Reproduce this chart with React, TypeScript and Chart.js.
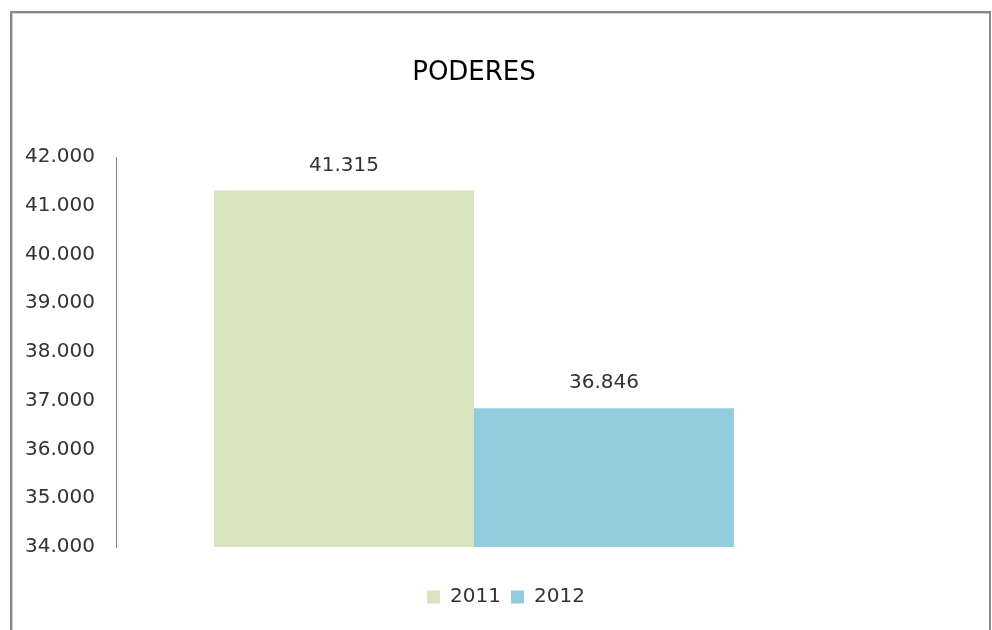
import React, { useEffect, useRef } from "react";
import { Chart, registerables } from "chart.js";

Chart.register(...registerables);

const chartTitle = "PODERES";
const categories = ["PODERES"];
const seriesLabels = ["2011", "2012"];
const values2011 = [41315];
const values2012 = [36846];
const seriesColors = ["#D7E4BD", "#93CDDD"];
const yTickValues = [34000, 35000, 36000, 37000, 38000, 39000, 40000, 41000, 42000];

const FONT = "'DejaVu Sans', sans-serif";

function fmt(n: number): string {
  return String(Math.round(n)).replace(/\B(?=(\d{3})+(?!\d))/g, ".");
}

const titlePlugin = {
  id: "customTitle",
  afterDraw(chart: any) {
    const { ctx, chartArea } = chart;
    ctx.save();
    ctx.font = `26px ${FONT}`;
    ctx.fillStyle = "#000";
    ctx.textAlign = "center";
    ctx.textBaseline = "middle";
    ctx.fillText(chartTitle, (chartArea.left + chartArea.right) / 2, 73);
    ctx.restore();
  },
};

const valueLabelPlugin = {
  id: "valueLabels",
  afterDatasetsDraw(chart: any) {
    const { ctx } = chart;
    ctx.save();
    ctx.font = `20px ${FONT}`;
    ctx.fillStyle = "#333";
    ctx.textAlign = "center";
    ctx.textBaseline = "middle";
    chart.data.datasets.forEach((ds: any, i: number) => {
      const meta = chart.getDatasetMeta(i);
      meta.data.forEach((el: any, j: number) => {
        ctx.fillText(fmt(ds.data[j]), el.x, el.y - 25);
      });
    });
    ctx.restore();
  },
};

export default function App() {
  const ref = useRef<HTMLCanvasElement>(null);

  useEffect(() => {
    if (!ref.current) return;
    const chart = new Chart(ref.current, {
      type: "bar",
      data: {
        labels: categories,
        datasets: [
          {
            label: seriesLabels[0],
            data: values2011,
            backgroundColor: seriesColors[0],
            categoryPercentage: 0.726,
            barPercentage: 1,
          },
          {
            label: seriesLabels[1],
            data: values2012,
            backgroundColor: seriesColors[1],
            categoryPercentage: 0.726,
            barPercentage: 1,
          },
        ],
      },
      options: {
        responsive: false,
        animation: false,
        devicePixelRatio: 1,
        layout: { padding: { top: 157, left: 20, right: 0, bottom: 13 } },
        scales: {
          x: {
            type: "category",
            display: true,
            grid: { display: false, drawTicks: false },
            border: { display: false },
            ticks: { display: false },
            afterFit: (s: any) => {
              s.height = 30;
            },
          },
          y: {
            type: "linear",
            position: "left",
            min: 34000,
            max: 42000,
            grid: { display: false, drawTicks: false },
            border: { display: true, color: "#868686", width: 1 },
            afterBuildTicks: (s: any) => {
              s.ticks = yTickValues.map((v) => ({ value: v }));
            },
            ticks: {
              padding: 21,
              color: "#333",
              font: { family: FONT, size: 20 },
              callback: (v: any) => fmt(Number(v)),
            },
            afterFit: (s: any) => {
              s.width = 96;
            },
          },
          y2: {
            type: "linear",
            position: "right",
            display: true,
            grid: { display: false, drawTicks: false },
            border: { display: false },
            ticks: { display: false },
            afterFit: (s: any) => {
              s.width = 160;
            },
          },
        },
        plugins: {
          title: { display: false },
          tooltip: { enabled: false },
          legend: {
            display: true,
            position: "bottom",
            labels: {
              boxWidth: 13,
              boxHeight: 13,
              padding: 10,
              color: "#333",
              font: { family: FONT, size: 20 },
            },
          },
        },
      },
      plugins: [titlePlugin, valueLabelPlugin],
    });
    return () => chart.destroy();
  }, []);

  return (
    <div
      style={{
        position: "absolute",
        left: 0,
        top: 0,
        width: 992,
        height: 630,
        overflow: "hidden",
        background: "#fff",
      }}
    >
      <canvas ref={ref} width={992} height={630} style={{ display: "block" }} />
      <div
        style={{
          position: "absolute",
          left: 10,
          top: 11,
          width: 977,
          height: 700,
          border: "2px solid #888",
          boxShadow: "inset 1px 1px 0 #d0d0d0",
          pointerEvents: "none",
        }}
      />
    </div>
  );
}
